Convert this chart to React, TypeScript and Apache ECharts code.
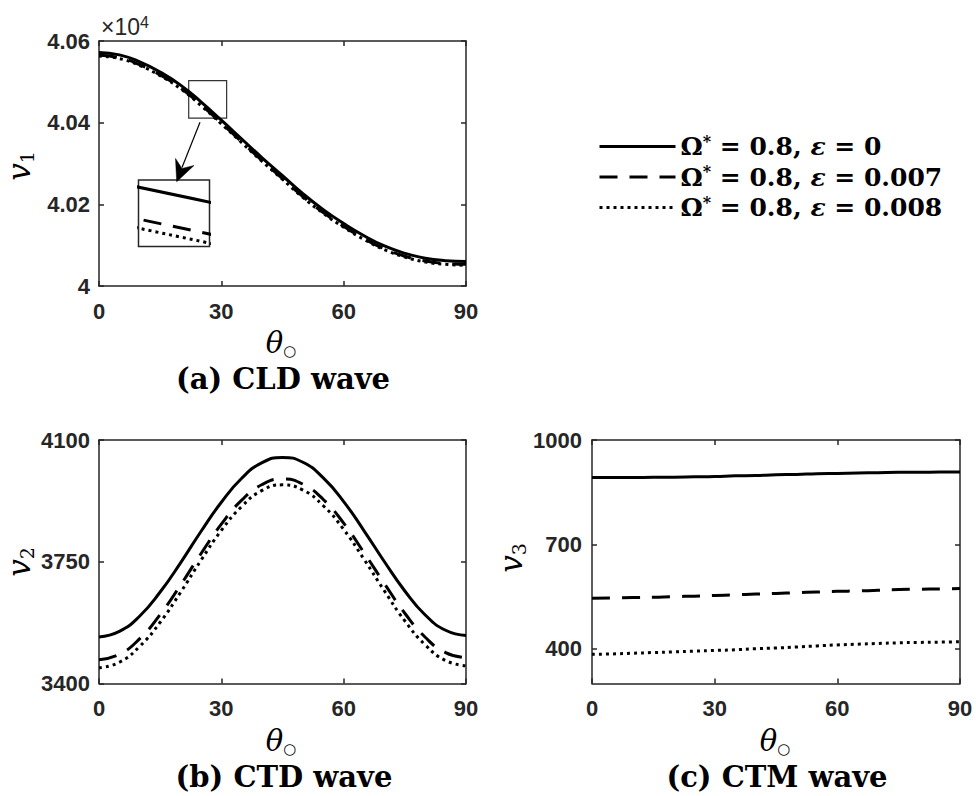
import React, { useEffect, useRef } from 'react';
import * as echarts from 'echarts';

// ---------- data ----------
const theta = [0, 5, 10, 15, 20, 25, 30, 35, 40, 45, 50, 55, 60, 65, 70, 75, 80, 85, 90];

// (a) CLD wave, v1 (real values; axis shows x10^4)
const cldEps0 = [40572, 40566, 40549, 40524, 40492, 40451, 40406, 40360, 40314, 40270, 40226, 40187, 40153, 40123, 40098, 40080, 40068, 40062, 40060];
const cldEps007 = [40565, 40559, 40542, 40517, 40485, 40444, 40399, 40353, 40307, 40263, 40219, 40180, 40146, 40116, 40091, 40073, 40061, 40055, 40053];
const cldEps008 = [40563, 40557, 40540, 40515, 40483, 40442, 40397, 40351, 40305, 40261, 40217, 40178, 40144, 40114, 40089, 40071, 40059, 40053, 40051];

// (b) CTD wave, v2
const ctdEps0 = [3534, 3550, 3594, 3663, 3747, 3837, 3921, 3990, 4035, 4050, 4036, 3991, 3923, 3839, 3750, 3666, 3597, 3553, 3538];
const ctdEps007 = [3468, 3484, 3529, 3598, 3683, 3773, 3858, 3927, 3972, 3988, 3973, 3929, 3861, 3776, 3687, 3602, 3533, 3489, 3474];
const ctdEps008 = [3445, 3461, 3507, 3576, 3662, 3754, 3840, 3909, 3955, 3971, 3956, 3911, 3843, 3757, 3666, 3580, 3511, 3466, 3451];

// (c) CTM wave, v3
const ctmEps0 = [892, 892, 892, 893, 893, 894, 895, 897, 898, 900, 901, 903, 904, 905, 906, 907, 907, 908, 908];
const ctmEps007 = [545, 546, 547, 548, 550, 551, 553, 555, 557, 559, 561, 563, 565, 566, 568, 570, 571, 572, 573];
const ctmEps008 = [384, 385, 387, 389, 391, 393, 395, 397, 400, 402, 405, 408, 411, 413, 415, 417, 418, 419, 420];

const epsLabels = ['0', '0.007', '0.008'];
const seriesNames = epsLabels.map((e) => `Ω* = 0.8, ε = ${e}`);

const cldTicks = [40000, 40200, 40400, 40600];
const ctdTicks = [3400, 3750, 4100];
const ctmTicks = [400, 700, 1000];

// zoom window (inset) and the small marker box in panel (a)
const insetThetaRange = [26.3, 26.672];
const insetValueRange = [40426.7, 40441.3];
const zoomBoxTheta = [22, 31.3];
const zoomBoxValue = [40411, 40503];

// ---------- styling ----------
const AX = '#262626';
const lineTypes: any[] = ['solid', [18, 12], [3, 4]];

const tickFont = {
  color: AX,
  fontFamily: 'Liberation Sans, Arial, sans-serif',
  fontWeight: 'bold' as const,
  fontSize: 22,
};

function xAxesFor(grid: number) {
  return [
    {
      type: 'value', gridIndex: grid, min: 0, max: 90, interval: 30, position: 'bottom',
      axisLine: { show: true, onZero: false, lineStyle: { color: AX, width: 1.5 } },
      axisTick: { show: true, inside: true, length: 5, lineStyle: { color: AX, width: 1.5 } },
      axisLabel: { show: true, margin: 14, ...tickFont },
      splitLine: { show: false },
    },
    {
      type: 'value', gridIndex: grid, min: 0, max: 90, interval: 30, position: 'top',
      axisLine: { show: true, onZero: false, lineStyle: { color: AX, width: 1.5 } },
      axisTick: { show: true, inside: true, length: 5, lineStyle: { color: AX, width: 1.5 } },
      axisLabel: { show: false },
      splitLine: { show: false },
    },
  ];
}

function yAxesFor(grid: number, min: number, max: number, ticks: number[], fmt: (v: number) => string, margin: number) {
  const base = {
    type: 'value', gridIndex: grid, min, max,
    axisLine: { show: true, onZero: false, lineStyle: { color: AX, width: 1.5 } },
    splitLine: { show: false },
  };
  return [
    {
      ...base, position: 'left',
      axisTick: { show: true, inside: true, length: 5, customValues: ticks, lineStyle: { color: AX, width: 1.5 } },
      axisLabel: { show: true, margin, customValues: ticks, formatter: fmt, ...tickFont },
    },
    {
      ...base, position: 'right',
      axisTick: { show: true, inside: true, length: 5, customValues: ticks, lineStyle: { color: AX, width: 1.5 } },
      axisLabel: { show: false },
    },
  ];
}

function mkSeries(idx: number, values: number[], xi: number, yi: number, extra: any = {}) {
  return {
    type: 'line',
    name: seriesNames[idx],
    xAxisIndex: xi,
    yAxisIndex: yi,
    data: theta.map((t, i) => [t, values[i]]),
    symbol: 'none',
    smooth: true,
    silent: true,
    clip: true,
    lineStyle: { color: '#000', width: 3, type: lineTypes[idx], cap: 'butt' },
    itemStyle: { color: '#000' },
    ...extra,
  };
}

const serifBold = 'DejaVu Serif, serif';

function axisVarText(x: number, y: number, sub: string) {
  return {
    type: 'text', x, y, rotation: Math.PI / 2,
    style: {
      text: `{v|v}{s|${sub}}`,
      align: 'center', verticalAlign: 'middle',
      fill: '#000',
      rich: {
        v: { fontFamily: 'DejaVu Serif, serif', fontStyle: 'italic', fontSize: 31, lineHeight: 34, fill: '#000' },
        s: { fontFamily: 'DejaVu Serif, serif', fontSize: 19, lineHeight: 16, verticalAlign: 'bottom', fill: '#000' },
      },
    },
  };
}

function thetaText(x: number, y: number) {
  return {
    type: 'text', x, y,
    style: {
      text: '{t|θ}{s|○}',
      align: 'center', verticalAlign: 'middle',
      fill: '#000',
      rich: {
        t: { fontFamily: 'DejaVu Serif, serif', fontStyle: 'italic', fontSize: 29, lineHeight: 30, fill: '#000' },
        s: { fontFamily: 'DejaVu Sans, sans-serif', fontSize: 15, lineHeight: 20, verticalAlign: 'bottom', fill: '#000' },
      },
    },
  };
}

function caption(x: number, y: number, text: string) {
  return {
    type: 'text', x, y,
    style: {
      text, align: 'center', verticalAlign: 'middle',
      fontFamily: serifBold, fontWeight: 'bold', fontSize: 29, fill: '#000',
    },
  };
}

const cldFmt = (v: number) => (v === 40000 ? '4' : (v / 1e4).toFixed(2));
const plainFmt = (v: number) => String(v);

const option: any = {
  animation: false,
  backgroundColor: '#fff',
  grid: [
    { left: 99, top: 41, width: 367, height: 245 },
    { left: 99, top: 440, width: 367, height: 243.5 },
    { left: 592, top: 440, width: 368, height: 243.5 },
    { left: 138.5, top: 180, width: 71, height: 66.5, show: true, borderColor: AX, borderWidth: 1.5, backgroundColor: '#fff' },
  ],
  xAxis: [
    ...xAxesFor(0),
    ...xAxesFor(1),
    ...xAxesFor(2),
    { type: 'value', gridIndex: 3, min: insetThetaRange[0], max: insetThetaRange[1], show: false },
  ],
  yAxis: [
    ...yAxesFor(0, 40000, 40600, cldTicks, cldFmt, 9),
    ...yAxesFor(1, 3400, 4100, ctdTicks, plainFmt, 9),
    ...yAxesFor(2, 300, 1000, ctmTicks, plainFmt, 10),
    { type: 'value', gridIndex: 3, min: insetValueRange[0], max: insetValueRange[1], show: false },
  ],
  legend: {
    orient: 'vertical',
    left: 598,
    top: 133,
    padding: 0,
    itemWidth: 76,
    itemHeight: 14,
    itemGap: 4.5,
    selectedMode: false,
    data: seriesNames,
    itemStyle: { color: 'rgba(0,0,0,0)', borderColor: 'rgba(0,0,0,0)', borderWidth: 0, opacity: 0 },
    lineStyle: { width: 3 },
    formatter: (name: string) => {
      const i = seriesNames.indexOf(name);
      return `{b|Ω}{sup|*}{b| = 0.8, }{e|ε}{b| = ${epsLabels[i]}}`;
    },
    textStyle: {
      color: '#000',
      rich: {
        b: { fontFamily: serifBold, fontWeight: 'bold', fontSize: 25, lineHeight: 27, color: '#000' },
        sup: { fontFamily: serifBold, fontWeight: 'bold', fontSize: 16, lineHeight: 11, verticalAlign: 'top', color: '#000' },
        e: { fontFamily: serifBold, fontWeight: 'bold', fontStyle: 'italic', fontSize: 25, lineHeight: 27, color: '#000' },
      },
    },
  },
  series: [
    mkSeries(0, cldEps0, 0, 0, {
      markArea: {
        silent: true,
        itemStyle: { color: 'rgba(0,0,0,0)', borderColor: '#333', borderWidth: 1.2 },
        data: [[{ coord: [zoomBoxTheta[0], zoomBoxValue[1]] }, { coord: [zoomBoxTheta[1], zoomBoxValue[0]] }]],
      },
    }),
    mkSeries(1, cldEps007, 0, 0),
    mkSeries(2, cldEps008, 0, 0),
    mkSeries(0, ctdEps0, 2, 2),
    mkSeries(1, ctdEps007, 2, 2),
    mkSeries(2, ctdEps008, 2, 2),
    mkSeries(0, ctmEps0, 4, 4),
    mkSeries(1, ctmEps007, 4, 4),
    mkSeries(2, ctmEps008, 4, 4),
    mkSeries(0, cldEps0, 6, 6),
    mkSeries(1, cldEps007, 6, 6),
    mkSeries(2, cldEps008, 6, 6),
  ],
  graphic: [
    {
      type: 'text', x: 101, y: 27,
      style: {
        text: '{a|×10}{b|4}', align: 'left', verticalAlign: 'middle', fill: AX,
        rich: {
          a: { fontFamily: 'Liberation Sans, Arial, sans-serif', fontSize: 23, lineHeight: 26, fill: AX },
          b: { fontFamily: 'Liberation Sans, Arial, sans-serif', fontSize: 16, lineHeight: 6, verticalAlign: 'top', fill: AX },
        },
      },
    },
    axisVarText(19, 166, '1'),
    axisVarText(19, 562, '2'),
    axisVarText(511, 558, '3'),
    thetaText(281, 343),
    thetaText(281, 741),
    thetaText(775, 741),
    caption(283, 379, '(a) CLD wave'),
    caption(284, 777, '(b) CTD wave'),
    caption(777, 777, '(c) CTM wave'),
    {
      type: 'line',
      shape: { x1: 200, y1: 122.3, x2: 182, y2: 167.5 },
      style: { stroke: '#000', lineWidth: 1.2 },
    },
    {
      type: 'polygon',
      shape: { points: [[176.7, 181.7], [194, 165.5], [182, 168.5], [175.5, 158.5]] },
      style: { fill: '#000', stroke: '#000', lineWidth: 0.5 },
    },
  ],
};

export default function App() {
  const ref = useRef<HTMLDivElement>(null);
  useEffect(() => {
    if (!ref.current) return;
    const chart = echarts.init(ref.current, null, { renderer: 'svg' });
    chart.setOption(option);
    return () => chart.dispose();
  }, []);
  return (
    <div
      ref={ref}
      style={{ position: 'fixed', left: 0, top: 0, width: 976, height: 796, background: '#fff' }}
    />
  );
}
